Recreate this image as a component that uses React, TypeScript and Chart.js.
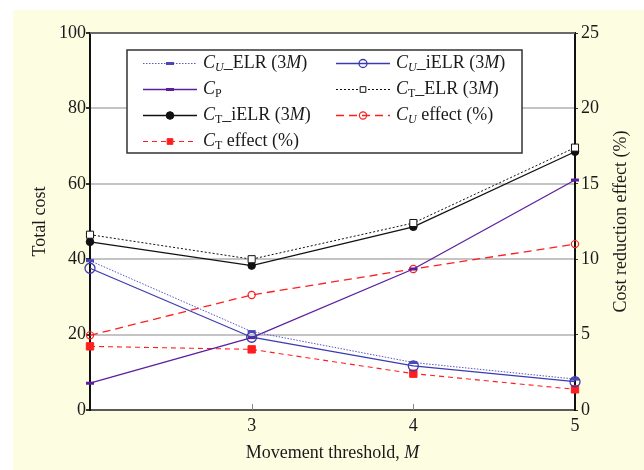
import React, { useEffect, useRef } from 'react';
import { Chart, registerables } from 'chart.js';

Chart.register(...registerables);

// ---- data ----
const thresholds = [2, 3, 4, 5];
const cuElr = [39.6, 20.8, 12.6, 8.2];
const cuIelr = [37.6, 19.3, 11.7, 7.5];
const cp = [7.1, 19.2, 37.4, 61.0];
const ctElr = [46.5, 40.0, 49.6, 69.6];
const ctIelr = [44.6, 38.3, 48.6, 68.5];
const cuEffect = [4.95, 7.63, 9.35, 11.0];
const ctEffect = [4.22, 4.02, 2.41, 1.37];

const leftTicks = [0, 20, 40, 60, 80, 100];
const rightTicks = [0, 5, 10, 15, 20, 25];

type Seg = { t: string; it?: boolean; sub?: boolean };

const FONT = '"Liberation Serif", "Times New Roman", serif';

const legendLabels: Seg[][] = [
  [{ t: 'C', it: true }, { t: 'U', it: true, sub: true }, { t: '_ELR (3' }, { t: 'M', it: true }, { t: ')' }],
  [{ t: 'C', it: true }, { t: 'U', it: true, sub: true }, { t: '_iELR (3' }, { t: 'M', it: true }, { t: ')' }],
  [{ t: 'C', it: true }, { t: 'P', sub: true }],
  [{ t: 'C', it: true }, { t: 'T', sub: true }, { t: '_ELR (3' }, { t: 'M', it: true }, { t: ')' }],
  [{ t: 'C', it: true }, { t: 'T', sub: true }, { t: '_iELR (3' }, { t: 'M', it: true }, { t: ')' }],
  [{ t: 'C', it: true }, { t: 'U', it: true, sub: true }, { t: ' effect (%)' }],
  [{ t: 'C', it: true }, { t: 'T', sub: true }, { t: ' effect (%)' }],
];

function drawRich(ctx: CanvasRenderingContext2D, x: number, y: number, segs: Seg[], size = 18) {
  ctx.save();
  ctx.textBaseline = 'middle';
  ctx.textAlign = 'left';
  ctx.fillStyle = '#1a1a1a';
  let cx = x;
  for (const s of segs) {
    const sz = s.sub ? Math.round(size * 0.68) : size;
    ctx.font = `${s.it ? 'italic ' : ''}${sz}px ${FONT}`;
    ctx.fillText(s.t, cx, s.sub ? y + 4 : y);
    cx += ctx.measureText(s.t).width;
  }
  ctx.restore();
  return cx - x;
}

function measureRich(ctx: CanvasRenderingContext2D, segs: Seg[], size = 18) {
  ctx.save();
  let w = 0;
  for (const s of segs) {
    const sz = s.sub ? Math.round(size * 0.68) : size;
    ctx.font = `${s.it ? 'italic ' : ''}${sz}px ${FONT}`;
    w += ctx.measureText(s.t).width;
  }
  ctx.restore();
  return w;
}

function drawMarker(ctx: CanvasRenderingContext2D, ds: any, x: number, y: number) {
  const style = ds.pointStyle;
  const r = ds.pointRadius;
  ctx.save();
  ctx.setLineDash([]);
  ctx.lineWidth = ds.pointBorderWidth;
  ctx.strokeStyle = ds.pointBorderColor;
  ctx.fillStyle = ds.pointBackgroundColor;
  if (style === 'line') {
    ctx.beginPath();
    ctx.moveTo(x - r, y);
    ctx.lineTo(x + r, y);
    ctx.stroke();
  } else if (style === 'circle') {
    ctx.beginPath();
    ctx.arc(x, y, r, 0, Math.PI * 2);
    ctx.fill();
    ctx.stroke();
  } else if (style === 'rect') {
    const s = r / Math.SQRT2;
    ctx.beginPath();
    ctx.rect(x - s, y - s, 2 * s, 2 * s);
    ctx.fill();
    ctx.stroke();
  }
  ctx.restore();
}

const frame = {
  id: 'frame',
  beforeDraw(chart: any) {
    const { ctx, width, height, chartArea } = chart;
    ctx.save();
    ctx.fillStyle = '#ffffff';
    ctx.fillRect(0, 0, width, height);
    ctx.fillStyle = '#fdfde2';
    ctx.fillRect(13, 10, width - 13, height - 10);
    ctx.fillStyle = '#ffffff';
    ctx.fillRect(chartArea.left, chartArea.top, chartArea.right - chartArea.left, chartArea.bottom - chartArea.top);
    ctx.restore();
  },
  afterDraw(chart: any) {
    const { ctx, chartArea, scales } = chart;
    ctx.save();
    // top border
    ctx.strokeStyle = '#6a6a6a';
    ctx.lineWidth = 2;
    ctx.beginPath();
    ctx.moveTo(chartArea.left, chartArea.top);
    ctx.lineTo(chartArea.right, chartArea.top);
    ctx.stroke();
    // inward x ticks
    ctx.strokeStyle = '#888';
    ctx.lineWidth = 1;
    for (const v of [3, 4]) {
      const px = Math.round(scales.x.getPixelForValue(v)) + 0.5;
      ctx.beginPath();
      ctx.moveTo(px, chartArea.bottom);
      ctx.lineTo(px, chartArea.bottom - 6);
      ctx.stroke();
    }

    // legend box
    const bx = 127, by = 50, bw = 395, bh = 103;
    ctx.fillStyle = '#ffffff';
    ctx.fillRect(bx, by, bw, bh);
    ctx.strokeStyle = '#333';
    ctx.lineWidth = 1.5;
    ctx.strokeRect(bx, by, bw, bh);
    const rows = [63.5, 89.5, 115.5, 141.5];
    const cols = [{ x0: 143, x1: 197, tx: 203 }, { x0: 336, x1: 390, tx: 396 }];
    chart.data.datasets.forEach((ds: any, i: number) => {
      const col = cols[i % 2];
      const y = rows[Math.floor(i / 2)];
      ctx.save();
      ctx.strokeStyle = ds.borderColor;
      ctx.lineWidth = ds.borderWidth;
      ctx.setLineDash(ds.borderDash || []);
      ctx.beginPath();
      ctx.moveTo(col.x0, y);
      ctx.lineTo(col.x1, y);
      ctx.stroke();
      ctx.restore();
      drawMarker(ctx, { ...ds, pointRadius: Math.min(ds.pointRadius, 4) }, (col.x0 + col.x1) / 2, y);
      drawRich(ctx, col.tx, y, legendLabels[i]);
    });

    // axis titles
    ctx.fillStyle = '#1a1a1a';
    ctx.font = `18px ${FONT}`;
    ctx.textAlign = 'center';
    ctx.textBaseline = 'middle';
    const cy = (chartArea.top + chartArea.bottom) / 2;
    ctx.save();
    ctx.translate(40, cy);
    ctx.rotate(-Math.PI / 2);
    ctx.fillText('Total cost', 0, 0);
    ctx.restore();
    ctx.save();
    ctx.translate(621, cy);
    ctx.rotate(-Math.PI / 2);
    ctx.fillText('Cost reduction effect (%)', 0, 0);
    ctx.restore();
    const xt: Seg[] = [{ t: 'Movement threshold, ' }, { t: 'M', it: true }];
    const w = measureRich(ctx, xt);
    drawRich(ctx, (chartArea.left + chartArea.right) / 2 - w / 2, 453, xt);
    ctx.restore();
  },
};

export default function App() {
  const ref = useRef<HTMLCanvasElement | null>(null);
  useEffect(() => {
    if (!ref.current) return;
    const pts = (arr: number[]) => arr.map((v, i) => ({ x: thresholds[i], y: v }));
    const blue = '#3b3bb0';
    const purple = '#5b1f9e';
    const red = '#ff1e1e';
    const chart = new Chart(ref.current, {
      type: 'line',
      data: {
        datasets: [
          {
            label: 'C_U_ELR (3M)', data: pts(cuElr), yAxisID: 'y',
            borderColor: '#5858c8', borderWidth: 1, borderDash: [1.5, 1.5],
            pointStyle: 'line', pointRadius: 4, pointBorderWidth: 3,
            pointBorderColor: '#4848b8', pointBackgroundColor: '#4848b8',
          },
          {
            label: 'C_U_iELR (3M)', data: pts(cuIelr), yAxisID: 'y',
            borderColor: blue, borderWidth: 1.3,
            pointStyle: 'circle', pointRadius: 5, pointBorderWidth: 1.3,
            pointBorderColor: blue, pointBackgroundColor: 'rgba(255,255,255,0)',
          },
          {
            label: 'C_P', data: pts(cp), yAxisID: 'y',
            borderColor: purple, borderWidth: 1.3,
            pointStyle: 'line', pointRadius: 4, pointBorderWidth: 3,
            pointBorderColor: purple, pointBackgroundColor: purple,
          },
          {
            label: 'C_T_ELR (3M)', data: pts(ctElr), yAxisID: 'y',
            borderColor: '#111', borderWidth: 1, borderDash: [2, 2],
            pointStyle: 'rect', pointRadius: 5, pointBorderWidth: 1,
            pointBorderColor: '#111', pointBackgroundColor: '#ffffff',
          },
          {
            label: 'C_T_iELR (3M)', data: pts(ctIelr), yAxisID: 'y',
            borderColor: '#111', borderWidth: 1.3,
            pointStyle: 'circle', pointRadius: 3.8, pointBorderWidth: 1,
            pointBorderColor: '#111', pointBackgroundColor: '#111',
          },
          {
            label: 'C_U effect (%)', data: pts(cuEffect), yAxisID: 'y1',
            borderColor: red, borderWidth: 1.3, borderDash: [8, 5],
            pointStyle: 'circle', pointRadius: 3.6, pointBorderWidth: 1.2,
            pointBorderColor: red, pointBackgroundColor: 'rgba(255,255,255,0)',
          },
          {
            label: 'C_T effect (%)', data: pts(ctEffect), yAxisID: 'y1',
            borderColor: red, borderWidth: 1.1, borderDash: [5, 4],
            pointStyle: 'rect', pointRadius: 5.2, pointBorderWidth: 1,
            pointBorderColor: red, pointBackgroundColor: red,
          },
        ].map((d) => ({ ...d, fill: false, tension: 0, clip: false as any })),
      },
      options: {
        responsive: false,
        animation: false,
        layout: { padding: { top: 33, left: 0, right: 0, bottom: 0 } },
        plugins: { legend: { display: false }, tooltip: { enabled: false }, title: { display: false } },
        scales: {
          x: {
            type: 'linear', min: 2, max: 5,
            ticks: {
              stepSize: 1, padding: 5, color: '#1a1a1a',
              font: { family: FONT, size: 18 },
              callback: (v: any) => (v === 2 ? '' : String(v)),
            },
            grid: { display: true, drawOnChartArea: false, drawTicks: false },
            border: { display: true, color: '#5a5a5a', width: 2 },
            afterFit: (s: any) => { s.height = 60; },
          },
          y: {
            position: 'left', min: 0, max: 100,
            afterBuildTicks: (s: any) => { s.ticks = leftTicks.map((v) => ({ value: v })); },
            ticks: { padding: 0, color: '#1a1a1a', font: { family: FONT, size: 18 } },
            grid: { color: '#c4c4c4', lineWidth: 2, tickColor: '#333', tickLength: 4 },
            border: { display: true, color: '#111', width: 2 },
            afterFit: (s: any) => { s.width = 90; },
          },
          y1: {
            position: 'right', min: 0, max: 25,
            afterBuildTicks: (s: any) => { s.ticks = rightTicks.map((v) => ({ value: v })); },
            ticks: { padding: 3, color: '#1a1a1a', font: { family: FONT, size: 18 } },
            grid: { drawOnChartArea: false, tickColor: '#333', tickLength: 3 },
            border: { display: true, color: '#111', width: 2 },
            afterFit: (s: any) => { s.width = 69; },
          },
        },
      } as any,
      plugins: [frame],
    });
    return () => chart.destroy();
  }, []);
  return (
    <div style={{ position: 'absolute', left: 0, top: 0, width: 644, height: 470 }}>
      <canvas ref={ref} width={644} height={470} style={{ display: 'block', width: 644, height: 470 }} />
    </div>
  );
}
